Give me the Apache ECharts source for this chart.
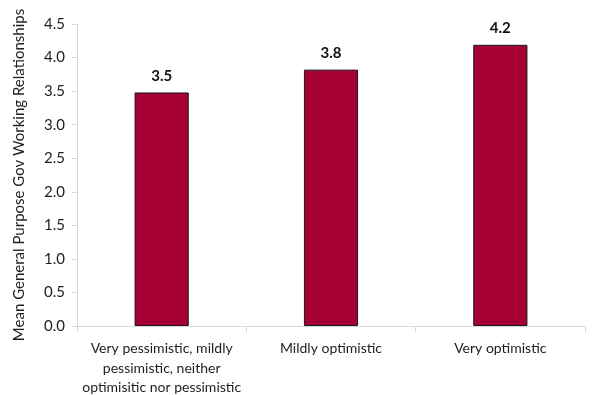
<!DOCTYPE html>
<html>
<head>
<meta charset="utf-8">
<script src="https://cdn.jsdelivr.net/npm/echarts@6/dist/echarts.min.js"></script>
<style>
  html, body { margin: 0; padding: 0; background: #fff; }
  #chart { width: 606px; height: 395px; }
</style>
</head>
<body>
<div id="chart"></div>
<script>
// Outlook groups and their mean scores
const categories = [
  'Very pessimistic, mildly\npessimistic, neither\noptimisitic nor pessimistic',
  'Mildly optimistic',
  'Very optimistic'
];
const meanScores = [3.48, 3.82, 4.19];
const yTicks = { min: 0, max: 4.5, interval: 0.5 };
const yTitle = 'Mean General Purpose Gov Working Relationships';

const FONT = 'Lato, "Open Sans", sans-serif';
const chart = echarts.init(document.getElementById('chart'), null, { renderer: 'canvas' });

chart.setOption({
  animation: false,
  textStyle: { fontFamily: FONT },
  grid: { left: 77, right: 21, top: 24, bottom: 69, outerBoundsMode: 'none', containLabel: false },
  xAxis: {
    type: 'category',
    data: categories,
    axisLine: { lineStyle: { color: '#d9d9d9', width: 1 } },
    axisTick: { show: true, length: 6, lineStyle: { color: '#d9d9d9' } },
    axisLabel: { color: '#1e1e1e', fontSize: 14, fontFamily: FONT, lineHeight: 19.5, margin: 13, interval: 0 }
  },
  yAxis: {
    type: 'value',
    min: yTicks.min,
    max: yTicks.max,
    interval: yTicks.interval,
    name: yTitle,
    nameLocation: 'middle',
    nameRotate: 90,
    nameGap: 50,
    nameTextStyle: { color: '#1e1e1e', fontSize: 15, fontFamily: FONT },
    axisLine: { show: true, lineStyle: { color: '#d9d9d9', width: 1 } },
    axisTick: { show: true, length: 5, lineStyle: { color: '#d9d9d9' } },
    splitLine: { show: false },
    axisLabel: {
      color: '#1e1e1e', fontSize: 15, fontFamily: FONT, margin: 12,
      formatter: v => v.toFixed(1)
    }
  },
  series: [{
    type: 'bar',
    data: meanScores,
    barWidth: '32%',
    itemStyle: { color: '#a50034', borderColor: '#1a1a1a', borderWidth: 1 },
    label: {
      show: true,
      position: 'top',
      distance: 9,
      color: '#111',
      fontSize: 15,
      fontWeight: 'bold',
      fontFamily: FONT,
      formatter: p => p.value.toFixed(1)
    }
  }]
});
</script>
</body>
</html>
